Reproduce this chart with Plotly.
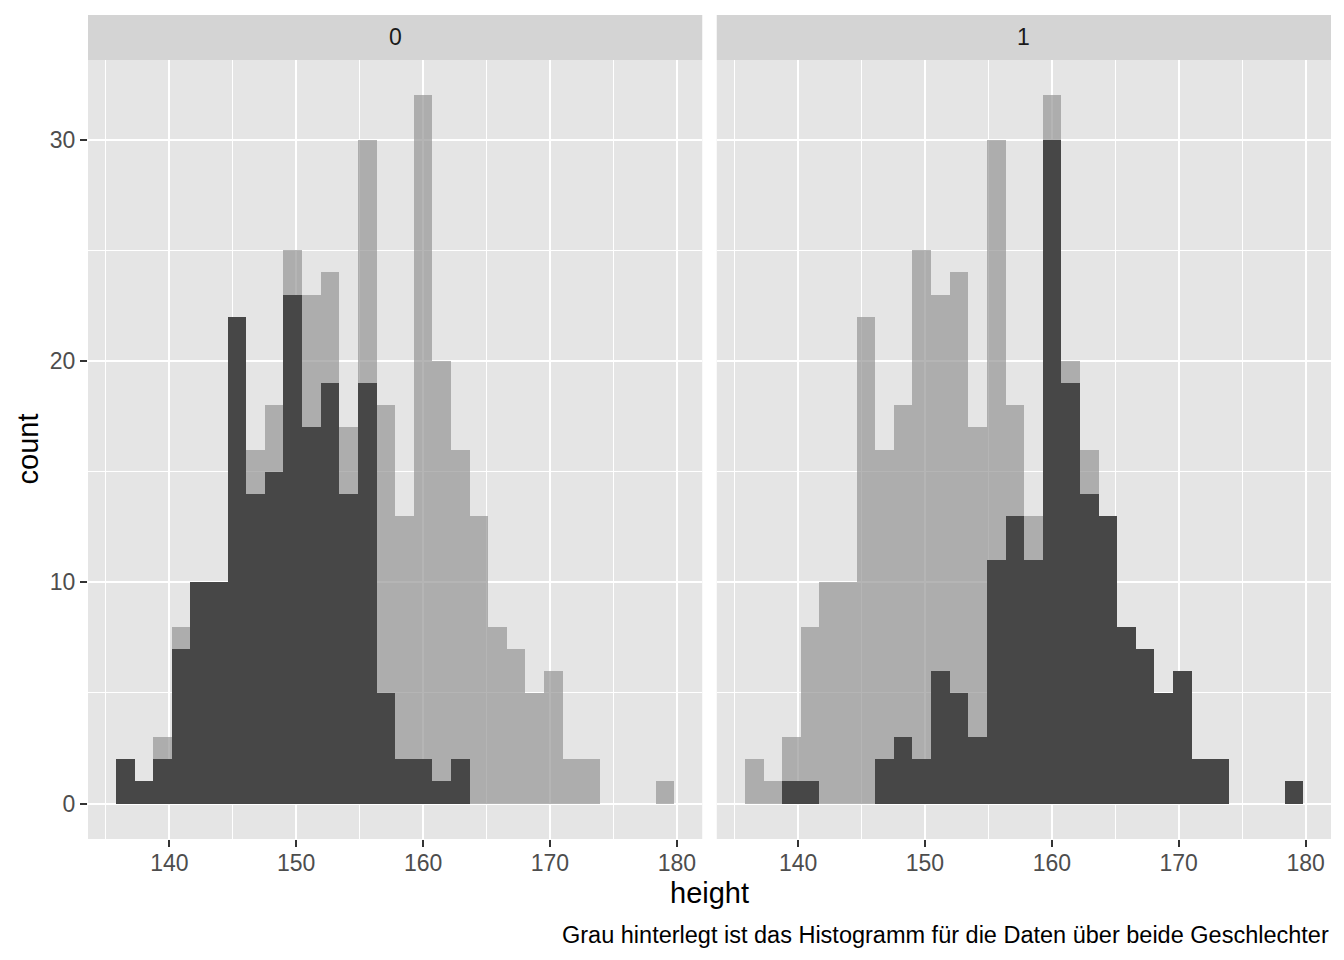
import plotly.graph_objects as go
from plotly.subplots import make_subplots

# ---- data ----
height_min = 136.525
height_max = 179.07
n_bins = 30
facet_labels = ["0", "1"]
# histogram of all adults (grey background)
count_all = [2, 1, 3, 8, 10, 10, 22, 16, 18, 25, 23, 24, 17, 30, 18,
             13, 32, 20, 16, 13, 8, 7, 5, 6, 2, 2, 0, 0, 0, 1]
# histogram per facet (male = 0 / male = 1)
count_facet0 = [2, 1, 2, 7, 10, 10, 22, 14, 15, 23, 17, 19, 14, 19, 5,
                2, 2, 1, 2, 0, 0, 0, 0, 0, 0, 0, 0, 0, 0, 0]
count_facet1 = [0, 0, 1, 1, 0, 0, 0, 2, 3, 2, 6, 5, 3, 11, 13,
                11, 30, 19, 14, 13, 8, 7, 5, 6, 2, 2, 0, 0, 0, 1]
x_ticks = [140, 150, 160, 170, 180]
y_ticks = [0, 10, 20, 30]
x_title = "height"
y_title = "count"
caption = "Grau hinterlegt ist das Histogramm für die Daten über beide Geschlechter"

# ---- bins as ggplot2 builds them (bins = 30, centred on the data range ends) ----
bw = (height_max - height_min) / (n_bins - 1)
centers = [height_min + k * bw for k in range(n_bins)]
lo_edge = centers[0] - bw / 2
hi_edge = centers[-1] + bw / 2
xpad = 0.05 * (hi_edge - lo_edge)
ymax = max(max(count_all), max(count_facet0), max(count_facet1))
ypad = 0.05 * ymax

OFF = 8  # page body margin offset
W, H = 1344 - OFF, 960 - OFF
ML, MR, MT, MB = 88 - OFF, 13, 60 - OFF, 121
plot_w = W - ML - MR
plot_h = H - MT - MB
gap = 14.5
bottom = H - MB  # figure y of panel bottom

FONT = "Liberation Sans, Arial, Helvetica, sans-serif"

fig = make_subplots(rows=1, cols=2, shared_yaxes=True,
                    horizontal_spacing=gap / plot_w)

for col, counts in enumerate([count_facet0, count_facet1], start=1):
    fig.add_trace(go.Bar(x=centers, y=count_all, width=bw,
                         marker=dict(color="rgba(149,149,149,0.7)", line=dict(width=0)),
                         showlegend=False, hoverinfo="x+y"), row=1, col=col)
    fig.add_trace(go.Bar(x=centers, y=counts, width=bw,
                         marker=dict(color="#474747", line=dict(width=0)),
                         showlegend=False, hoverinfo="x+y"), row=1, col=col)

axis_common = dict(showgrid=True, gridcolor="white", gridwidth=2.2,
                   zeroline=False, showline=False,
                   ticks="outside", ticklen=7, tickwidth=2, tickcolor="#333333",
                   tickfont=dict(size=23, color="#4D4D4D", family=FONT))

for i in (1, 2):
    fig.update_xaxes(range=[lo_edge - xpad, hi_edge + xpad], tickvals=x_ticks,
                     minor=dict(dtick=5, tick0=0, showgrid=True, gridcolor="white",
                                gridwidth=1.1, ticks=""),
                     ticklabelstandoff=-4,
                     **axis_common, row=1, col=i)
    fig.update_yaxes(range=[-ypad, ymax + ypad], tickvals=y_ticks,
                     minor=dict(dtick=5, tick0=0, showgrid=True, gridcolor="white",
                                gridwidth=1.1, ticks=""),
                     **axis_common, row=1, col=i)
fig.update_yaxes(ticks="", showticklabels=False, row=1, col=2)

strip_h = 45
for i, lab in enumerate(facet_labels):
    xr = "x domain" if i == 0 else "x2 domain"
    yr = "y domain" if i == 0 else "y2 domain"
    fig.add_shape(type="rect", xref=xr, yref=yr, x0=0, x1=1,
                  y0=1, y1=1 + strip_h / plot_h,
                  fillcolor="#D4D4D4", line=dict(width=0), layer="below")
    fig.add_annotation(xref=xr, yref=yr, x=0.5, y=1 + strip_h / 2 / plot_h,
                       text=lab, showarrow=False, xanchor="center", yanchor="middle",
                       font=dict(size=23, color="#1A1A1A", family=FONT))

fig.add_annotation(xref="paper", yref="paper", x=0.5,
                   y=-((893 - OFF) - bottom) / plot_h,
                   text=x_title, showarrow=False, xanchor="center", yanchor="middle",
                   font=dict(size=29, color="black", family=FONT))
fig.add_annotation(xref="paper", yref="paper", x=-(ML - (27 - OFF)) / plot_w, y=0.5,
                   text=y_title, showarrow=False, textangle=-90,
                   xanchor="center", yanchor="middle",
                   font=dict(size=29, color="black", family=FONT))
fig.add_annotation(xref="paper", yref="paper", x=1,
                   y=-((935 - OFF) - bottom) / plot_h,
                   text=caption, showarrow=False, xanchor="right", yanchor="middle",
                   font=dict(size=23.5, color="black", family=FONT))

fig.update_layout(width=W, height=H, margin=dict(l=ML, r=MR, t=MT, b=MB),
                  paper_bgcolor="white", plot_bgcolor="#E5E5E5",
                  barmode="overlay", bargap=0, showlegend=False,
                  font=dict(family=FONT))

fig.write_html("out.html")
